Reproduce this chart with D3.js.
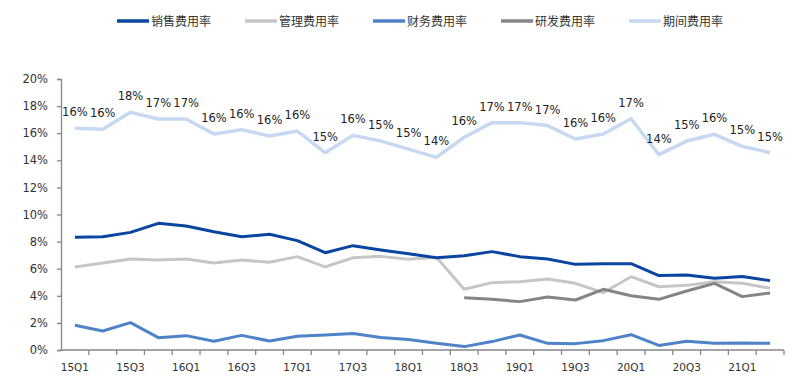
<!DOCTYPE html>
<html><head><meta charset="utf-8">
<script src="https://cdn.jsdelivr.net/npm/d3@7"></script>
<style>body{margin:0;background:#fff}svg{display:block}</style>
</head><body>
<svg id="c" width="800" height="378"></svg>
<script>
const categories = ["15Q1","15Q2","15Q3","15Q4","16Q1","16Q2","16Q3","16Q4","17Q1","17Q2","17Q3","17Q4","18Q1","18Q2","18Q3","18Q4","19Q1","19Q2","19Q3","19Q4","20Q1","20Q2","20Q3","20Q4","21Q1","21Q2"];
const tickLabels = ["15Q1","15Q3","16Q1","16Q3","17Q1","17Q3","18Q1","18Q3","19Q1","19Q3","20Q1","20Q3","21Q1"];
const yTicks = [0,0.02,0.04,0.06,0.08,0.10,0.12,0.14,0.16,0.18,0.20];
const salesRate = [8.32,8.36,8.68,9.35,9.15,8.73,8.36,8.54,8.07,7.18,7.70,7.38,7.10,6.81,6.96,7.26,6.89,6.72,6.32,6.37,6.37,5.49,5.54,5.29,5.43,5.12];
const adminRate = [6.13,6.42,6.72,6.64,6.72,6.42,6.64,6.47,6.89,6.13,6.81,6.91,6.69,6.84,4.48,4.97,5.04,5.24,4.92,4.23,5.41,4.67,4.77,5.04,4.92,4.55];
const financeRate = [1.82,1.40,2.02,0.91,1.06,0.64,1.08,0.66,1.01,1.11,1.21,0.93,0.77,0.49,0.25,0.62,1.11,0.49,0.47,0.69,1.13,0.34,0.64,0.49,0.52,0.49];
const rdRate = [null,null,null,null,null,null,null,null,null,null,null,null,null,null,3.86,3.74,3.57,3.91,3.69,4.48,4.01,3.74,4.35,4.92,3.94,4.21];
const periodRate = [16.36,16.30,17.54,17.05,17.05,15.94,16.26,15.79,16.16,14.56,15.84,15.42,14.82,14.22,15.70,16.78,16.78,16.56,15.57,15.94,17.07,14.42,15.42,15.92,15.03,14.56];
const seriesNames = ["销售费用率","管理费用率","财务费用率","研发费用率","期间费用率"];

const colors = ["#0a45a0","#c6c6c6","#4f83c8","#858585","#c6d9f0"];
const widths = [3,3,3,3,3.5];
const seriesData = [salesRate, adminRate, financeRate, rdRate, periodRate];

const svg = d3.select("#c");
const m = {l:61, r:16, t:79, b:28};
const W = 800, H = 378;
const x = d3.scaleBand().domain(categories).range([m.l, 784]);
const y = d3.scaleLinear().domain([0,0.20]).range([350, m.t]);
const fmt = d3.format(".0%");

// y axis
const yAx = svg.append("g").attr("transform",`translate(${m.l},0)`)
  .call(d3.axisLeft(y).tickValues(yTicks).tickFormat(fmt).tickSizeOuter(0).tickSize(4).tickPadding(9));
yAx.select(".domain").attr("stroke","#868686").attr("stroke-width",1.3);
yAx.selectAll(".tick line").attr("stroke","#868686").attr("stroke-width",1.3);
yAx.selectAll("text").attr("font-family","DejaVu Sans, Verdana, sans-serif").attr("font-size","11.5px").attr("fill","#333");

// x axis with ticks between categories
const xAx = svg.append("g").attr("transform","translate(0,350)");
xAx.append("line").attr("x1",m.l).attr("x2",784).attr("y1",0).attr("y2",0)
  .attr("stroke","#868686").attr("stroke-width",1.3);
const bounds = categories.map(c => x(c)).concat([x(categories[categories.length-1]) + x.bandwidth()]);
xAx.selectAll("line.tk").data(bounds.slice(1)).join("line").attr("class","tk")
  .attr("x1",d=>d).attr("x2",d=>d).attr("y1",0).attr("y2",5)
  .attr("stroke","#868686").attr("stroke-width",1.3);
xAx.selectAll("text").data(tickLabels).join("text")
  .attr("x",d=>x(d)+x.bandwidth()/2).attr("y",21)
  .attr("text-anchor","middle")
  .attr("font-family","DejaVu Sans, Verdana, sans-serif").attr("font-size","10.5px").attr("fill","#333")
  .text(d=>d);

// lines
const line = d3.line()
  .defined(d => d.v != null)
  .x(d => x(d.c) + x.bandwidth()/2)
  .y(d => y(d.v/100));
const order = [4,1,3,0,2];
order.forEach(i => {
  const pts = categories.map((c,j)=>({c, v: seriesData[i][j]}));
  svg.append("path").datum(pts)
    .attr("d", line).attr("fill","none")
    .attr("stroke", colors[i]).attr("stroke-width", widths[i])
    .attr("stroke-linejoin","round");
});

// data labels for period series
svg.append("g").selectAll("text").data(categories.map((c,j)=>({c, v: periodRate[j]})))
  .join("text")
  .attr("x", d => x(d.c) + x.bandwidth()/2)
  .attr("y", d => y(d.v/100) - 12)
  .attr("text-anchor","middle")
  .attr("font-family","DejaVu Sans, Verdana, sans-serif").attr("font-size","11.5px").attr("fill","#222")
  .text(d => fmt(Math.round(d.v)/100));

// legend
const lg = svg.append("g");
seriesNames.forEach((n,i) => {
  const lx = 117 + i*128;
  lg.append("line").attr("x1",lx).attr("x2",lx+32).attr("y1",21).attr("y2",21)
    .attr("stroke",colors[i]).attr("stroke-width",3.5);
  lg.append("text").attr("x",lx+34).attr("y",25.5)
    .attr("font-family","Noto Sans CJK SC, sans-serif").attr("font-size","12px").attr("fill","#333")
    .text(n);
});
</script>
</body></html>
